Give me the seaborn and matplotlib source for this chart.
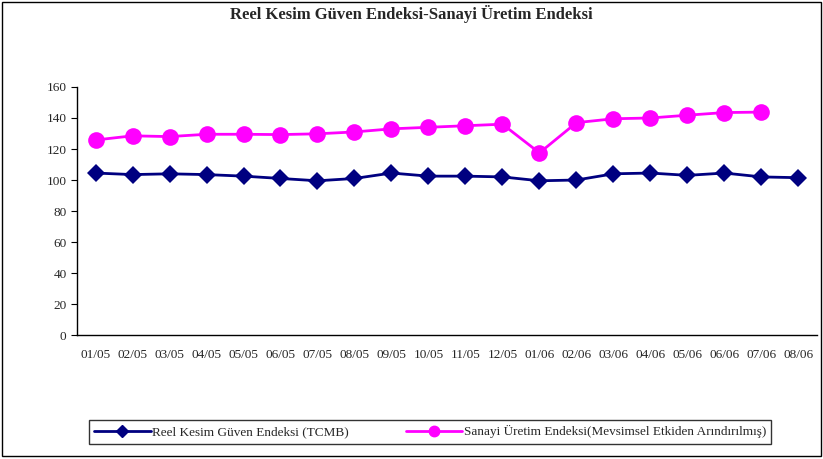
import pandas as pd
import matplotlib.pyplot as plt
import seaborn as sns
from matplotlib.patches import Rectangle

# --- veri ---
months = ["01/05", "02/05", "03/05", "04/05", "05/05", "06/05", "07/05", "08/05", "09/05", "10/05",
          "11/05", "12/05", "01/06", "02/06", "03/06", "04/06", "05/06", "06/06", "07/06", "08/06"]
reel_kesim = [104.5, 103.5, 104, 103.5, 102.5, 101, 99.5, 101, 104.5, 102.5,
              102.5, 102, 99.5, 100, 104, 104.5, 103, 104.5, 102, 101.5]
sanayi = [125.8, 128.5, 128, 129.5, 129.5, 129.3, 129.8, 131, 133, 134,
          135, 136, 117.5, 137, 139.5, 140, 141.8, 143.5, 143.8, None]

lbl_blue = "Reel Kesim Güven Endeksi (TCMB)"
lbl_pink = "Sanayi Üretim Endeksi(Mevsimsel Etkiden Arındırılmış)"

df = pd.DataFrame({"x": list(range(len(months))) * 2,
                   "deger": reel_kesim + sanayi,
                   "seri": [lbl_blue] * len(months) + [lbl_pink] * len(months)}).dropna()

sns.set_style("white")
plt.rcParams["font.family"] = ["Liberation Serif", "DejaVu Serif"]

fig = plt.figure(figsize=(8.23, 4.59), dpi=100)
ax = fig.add_axes([0.0936, 0.270, 0.899, 0.5405])

sns.lineplot(data=df, x="x", y="deger", hue="seri", style="seri",
             palette={lbl_blue: "#000080", lbl_pink: "#FF00FF"},
             markers={lbl_blue: "D", lbl_pink: "o"},
             dashes=False, linewidth=2, markeredgewidth=0,
             markersize=0, ax=ax, legend=False)
# marker boyutlari ayri ayri
for line, ms in zip(ax.lines, [9.5, 12]):
    line.set_markersize(ms)

ax.set_xlim(-0.5, len(months) - 0.5)
ax.set_ylim(0, 160)
ax.set_yticks(range(0, 161, 20))
ax.set_xticks(range(len(months)))
ax.set_xticklabels(months)
ax.set_xticks([i - 0.5 for i in range(len(months) + 1)], minor=True)
ax.tick_params(axis="x", which="major", length=0, labelsize=9.5, pad=10)
ax.tick_params(axis="x", which="minor", length=4, direction="out", color="black")
ax.tick_params(axis="y", length=4, direction="out", left=True, labelsize=9.5, color="black")
ax.set_xlabel("")
ax.set_ylabel("")
for s in ["top", "right"]:
    ax.spines[s].set_visible(False)
for s in ["left", "bottom"]:
    ax.spines[s].set_color("black")
    ax.spines[s].set_linewidth(1)

fig.text(0.5, 0.969, "Reel Kesim Güven Endeksi-Sanayi Üretim Endeksi",
         ha="center", va="center", fontsize=12, fontweight="bold")

handles = [plt.Line2D([], [], color="#000080", marker="D", markersize=6.5, linewidth=2),
           plt.Line2D([], [], color="#FF00FF", marker="o", markersize=7.5, linewidth=2)]
leg = fig.legend(handles, [lbl_blue, lbl_pink], ncol=2, loc="center",
                 bbox_to_anchor=(0.5225, 0.059), frameon=True, fancybox=False,
                 edgecolor="black", fontsize=9.5, handlelength=4.3,
                 columnspacing=4.3, borderpad=0.4, handletextpad=0.1)
leg.get_frame().set_linewidth(1)

# dis cerceve
fig.patches.append(Rectangle((0.002, 0.006), 0.996, 0.99, transform=fig.transFigure,
                             fill=False, edgecolor="black", linewidth=1))

plt.savefig("out.png", dpi=100)
